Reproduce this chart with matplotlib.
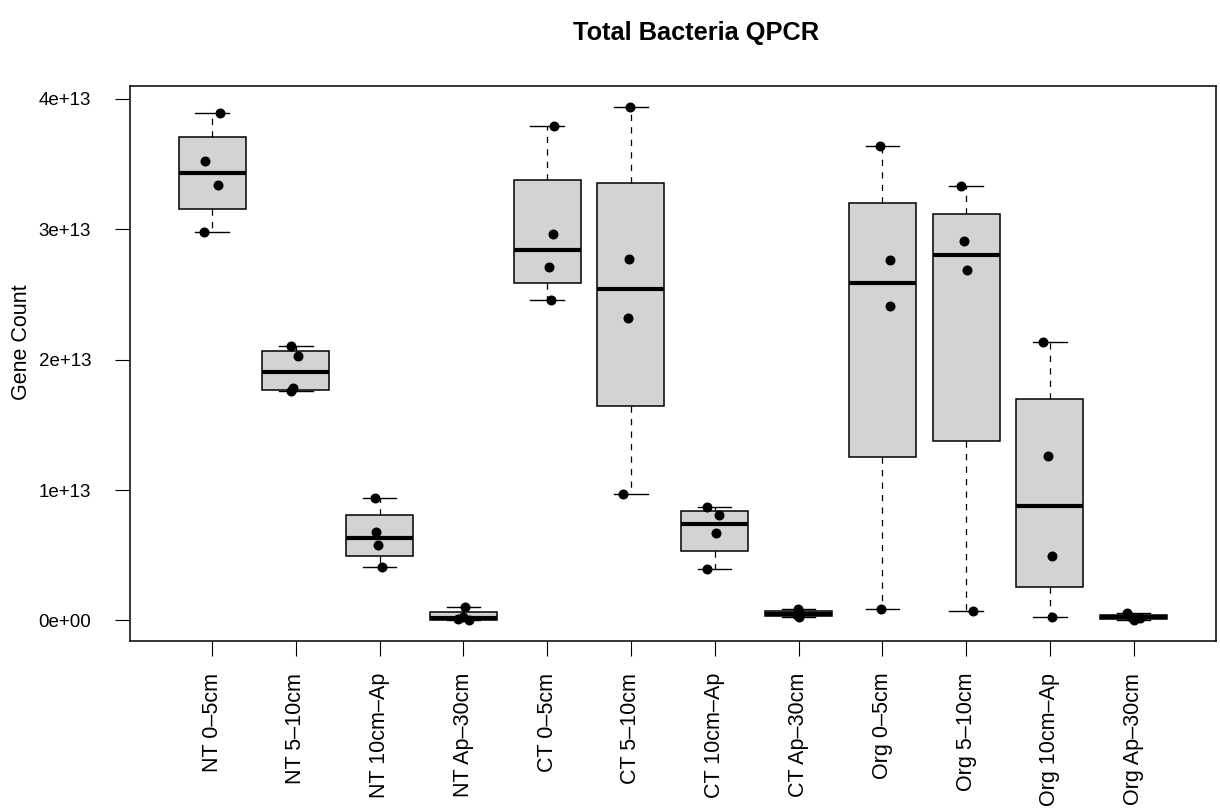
import matplotlib
matplotlib.use("Agg")
import matplotlib.pyplot as plt
import numpy as np
from matplotlib.ticker import FixedLocator, FuncFormatter

plt.rcParams['font.family'] = ['Liberation Sans', 'DejaVu Sans']

# ---- data (gene counts, units of 1e13) ----
categories = ["NT 0–5cm", "NT 5–10cm", "NT 10cm–Ap", "NT Ap–30cm",
              "CT 0–5cm", "CT 5–10cm", "CT 10cm–Ap", "CT Ap–30cm",
              "Org 0–5cm", "Org 5–10cm", "Org 10cm–Ap", "Org Ap–30cm"]

nt_0_5 = [3.888, 3.525, 3.336, 2.981]
nt_5_10 = [2.105, 2.031, 1.783, 1.757]
nt_10_ap = [0.940, 0.680, 0.580, 0.408]
nt_ap_30 = [0.100, 0.030, 0.012, 0.002]
ct_0_5 = [3.793, 2.966, 2.708, 2.460]
ct_5_10 = [3.941, 2.769, 2.319, 0.966]
ct_10_ap = [0.868, 0.812, 0.669, 0.393]
ct_ap_30 = [0.085, 0.055, 0.038, 0.025]
org_0_5 = [3.640, 2.766, 2.414, 0.089]
org_5_10 = [3.328, 2.912, 2.687, 0.071]
org_10_ap = [2.133, 1.262, 0.493, 0.025]
org_ap_30 = [0.060, 0.030, 0.015, 0.005]

groups = [nt_0_5, nt_5_10, nt_10_ap, nt_ap_30, ct_0_5, ct_5_10, ct_10_ap,
          ct_ap_30, org_0_5, org_5_10, org_10_ap, org_ap_30]
SCALE = 1e13

# horizontal jitter of the strip points (category units)
jitter = [[0.095, -0.080, 0.075, -0.095],
          [-0.060, 0.031, -0.040, -0.060],
          [-0.051, -0.048, -0.020, 0.027],
          [0.020, 0.000, -0.060, 0.068],
          [0.087, 0.072, 0.027, 0.043],
          [-0.007, -0.027, -0.036, -0.095],
          [-0.091, 0.053, 0.020, -0.095],
          [-0.012, 0.000, -0.020, 0.010],
          [-0.029, 0.095, 0.090, -0.012],
          [-0.056, -0.020, 0.016, 0.084],
          [-0.079, -0.024, 0.020, 0.020],
          [-0.079, -0.030, 0.080, 0.000]]


def fivenum_stats(vals):
    """Tukey hinges (as R's boxplot) and 1.5*IQR whiskers."""
    x = np.sort(np.asarray(vals, dtype=float))
    n = len(x)
    n4 = np.floor((n + 3) / 2) / 2
    d = np.array([1, n4, (n + 1) / 2, n + 1 - n4, n]) - 1
    q = [0.5 * (x[int(np.floor(k))] + x[int(np.ceil(k))]) for k in d]
    lo, med, hi = q[1], q[2], q[3]
    iqr = hi - lo
    inside = x[(x >= lo - 1.5 * iqr) & (x <= hi + 1.5 * iqr)]
    return dict(med=med, q1=lo, q3=hi, whislo=inside.min(), whishi=inside.max(),
                fliers=[])


stats = [fivenum_stats(np.array(g) * SCALE) for g in groups]

fig = plt.figure(figsize=(12.2, 8.11), dpi=100)
ax = fig.add_axes([130 / 1220, 1 - 640.7 / 811, (1215.7 - 130) / 1220, (640.7 - 86) / 811])

positions = np.arange(1, len(groups) + 1)
ax.bxp(stats, positions=positions, widths=0.8, patch_artist=True,
       showfliers=False,
       boxprops=dict(facecolor='#D3D3D3', edgecolor='black', linewidth=1.1),
       medianprops=dict(color='black', linewidth=3.0, solid_capstyle='butt'),
       whiskerprops=dict(color='black', linewidth=0.9, linestyle=(0, (5, 5))),
       capprops=dict(color='black', linewidth=1.0),
       capwidths=0.4)

for i, g in enumerate(groups):
    xs = positions[i] + np.array(jitter[i])
    ax.plot(xs, np.array(g) * SCALE, 'o', color='black', markersize=7.2,
            markeredgewidth=0, zorder=5)

allv = np.concatenate([np.array(g) for g in groups]) * SCALE
r = allv.max() - allv.min()
ax.set_ylim(allv.min() - 0.04 * r, allv.max() + 0.04 * r)
ax.set_xlim(0.02, 12.98)

yt = [0, 1e13, 2e13, 3e13, 4e13]
ax.yaxis.set_major_locator(FixedLocator(yt))
ax.yaxis.set_major_formatter(FuncFormatter(lambda v, p: f"{v:.0e}"))
ax.set_xticks(positions)
ax.set_xticklabels(categories, rotation=90, fontsize=15.5)
ax.tick_params(axis='y', labelsize=13.5, length=11, width=0.8, pad=17, direction='out')
ax.tick_params(axis='x', length=11, width=0.8, pad=12, direction='out')

for sp in ax.spines.values():
    sp.set_linewidth(1.1)

fig.text(696 / 1220, 1 - 40 / 811, "Total Bacteria QPCR", fontsize=18.3,
         fontweight='bold', ha='center', va='baseline')
fig.text(22 / 1220, 1 - 342 / 811, "Gene Count", rotation=90, fontsize=15.5,
         ha='center', va='center')

fig.savefig("out.png", dpi=100)
